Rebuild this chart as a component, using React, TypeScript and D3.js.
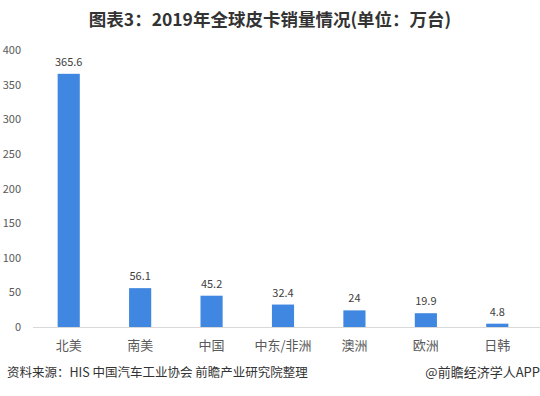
import React from "react";
import * as d3 from "d3";

const categories = ["北美", "南美", "中国", "中东/非洲", "澳洲", "欧洲", "日韩"];
const values = [365.6, 56.1, 45.2, 32.4, 24, 19.9, 4.8];
const yTicks = [0, 50, 100, 150, 200, 250, 300, 350, 400];

const W = 540,
  H = 396;
const font = "'Microsoft YaHei', 'Noto Sans CJK SC', sans-serif";

const App = () => {
  const x = d3.scaleBand().domain(categories).range([33, 533]).paddingInner(0.69).paddingOuter(0.345);
  const y = d3.scaleLinear().domain([0, 400]).range([327, 50]);

  return (
    <svg width={W} height={H} style={{ position: "absolute", left: 0, top: 0, background: "#fff" }}>
      <text x={270} y={26} textAnchor="middle" fontSize={17.5} fontWeight="bold" fill="#333" fontFamily={font}>
        图表3：2019年全球皮卡销量情况(单位：万台)
      </text>
      {yTicks.map((t) => (
        <text key={t} x={21} y={y(t) + 4} textAnchor="end" fontSize={11} fill="#595959" fontFamily={font}>
          {t}
        </text>
      ))}
      <line x1={33} x2={540} y1={y(0) + 0.5} y2={y(0) + 0.5} stroke="#d9d9d9" />
      {categories.map((c, i) => (
        <g key={c}>
          <rect x={x(c)} y={y(values[i])} width={x.bandwidth()} height={y(0) - y(values[i])} fill="#3f87e0" />
          <text
            x={x(c)! + x.bandwidth() / 2}
            y={y(values[i]) - 8}
            textAnchor="middle"
            fontSize={11}
            fill="#404040"
            fontFamily={font}
          >
            {values[i]}
          </text>
          <text x={x(c)! + x.bandwidth() / 2} y={350} textAnchor="middle" fontSize={13} fill="#595959" fontFamily={font}>
            {c}
          </text>
        </g>
      ))}
      <text x={7} y={377} fontSize={12.5} fill="#333" fontFamily={font}>
        资料来源：HIS 中国汽车工业协会 前瞻产业研究院整理
      </text>
      <text x={540} y={377} textAnchor="end" fontSize={13} fill="#333" fontFamily={font}>
        @前瞻经济学人APP
      </text>
    </svg>
  );
};

export default App;
